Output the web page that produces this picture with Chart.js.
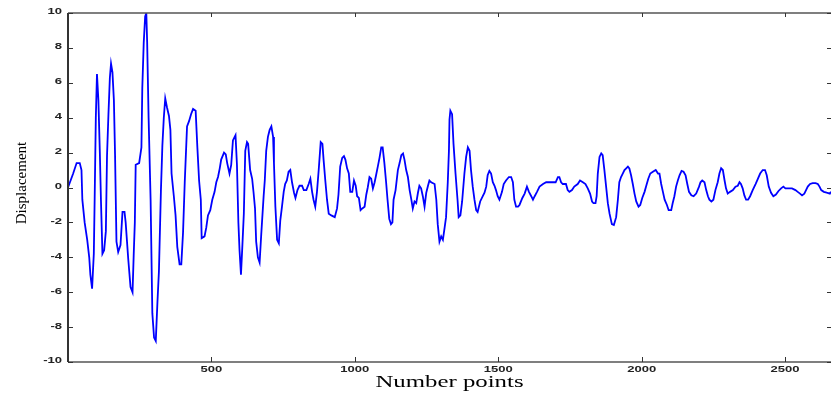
<!DOCTYPE html>
<html>
<head>
<meta charset="utf-8">
<script src="https://cdn.jsdelivr.net/npm/chart.js@4"></script>
<style>
  html, body { margin: 0; padding: 0; background: #fff; }
  #grafico { display: block; }
</style>
</head>
<body>
<canvas id="grafico" width="832" height="398"></canvas>
<script>
// sample index (Number points)
const xValues = [
  0, 18, 30, 41, 47, 50, 58, 67, 74, 78, 84, 90, 93, 97, 101, 106, 111, 115, 120, 126,
  132, 136, 141, 146, 150, 155, 160, 164, 169, 175, 183, 190, 197, 201, 210, 218, 225, 229, 233, 236,
  248, 256, 259, 264, 269, 273, 276, 281, 288, 294, 300, 306, 312, 317, 324, 329, 334, 339, 345, 352,
  357, 361, 369, 375, 381, 389, 395, 401, 407, 415, 422, 429, 436, 445, 451, 457, 463, 466, 476, 482,
  488, 496, 503, 511, 517, 523, 529, 534, 544, 550, 555, 563, 569, 575, 581, 584, 589, 594, 598, 603,
  608, 613, 618, 624, 628, 635, 642, 647, 652, 656, 662, 668, 674, 682, 686, 691, 697, 703, 709, 715,
  718, 723, 729, 735, 740, 746, 752, 757, 763, 769, 775, 781, 788, 793, 800, 807, 816, 822, 831, 839,
  845, 851, 856, 862, 868, 874, 881, 887, 891, 897, 903, 909, 918, 930, 938, 943, 949, 956, 962, 967,
  973, 979, 984, 991, 997, 1003, 1008, 1014, 1020, 1026, 1034, 1040, 1045, 1051, 1057, 1063, 1069, 1074, 1080, 1086,
  1092, 1097, 1103, 1109, 1114, 1120, 1126, 1131, 1135, 1142, 1150, 1156, 1162, 1168, 1173, 1179, 1185, 1191, 1197, 1202,
  1208, 1214, 1220, 1225, 1231, 1237, 1243, 1249, 1255, 1260, 1266, 1278, 1284, 1289, 1295, 1301, 1307, 1313, 1318, 1324,
  1328, 1330, 1333, 1339, 1344, 1351, 1358, 1362, 1368, 1374, 1382, 1388, 1394, 1400, 1405, 1411, 1417, 1423, 1428, 1437,
  1446, 1452, 1458, 1463, 1469, 1475, 1481, 1487, 1492, 1498, 1504, 1513, 1519, 1527, 1537, 1545, 1551, 1556, 1562, 1569,
  1574, 1584, 1592, 1600, 1607, 1615, 1621, 1627, 1635, 1644, 1656, 1667, 1679, 1690, 1700, 1708, 1713, 1719, 1725, 1736,
  1742, 1748, 1757, 1765, 1777, 1785, 1795, 1804, 1812, 1820, 1827, 1832, 1839, 1843, 1847, 1853, 1859, 1864, 1870, 1876,
  1882, 1888, 1896, 1903, 1911, 1917, 1922, 1928, 1934, 1940, 1946, 1952, 1957, 1963, 1969, 1975, 1981, 1989, 1995, 2002,
  2010, 2016, 2023, 2030, 2039, 2049, 2057, 2062, 2068, 2074, 2080, 2088, 2094, 2103, 2108, 2114, 2120, 2126, 2132, 2139,
  2146, 2153, 2159, 2165, 2173, 2181, 2190, 2200, 2205, 2211, 2219, 2225, 2231, 2236, 2243, 2250, 2257, 2265, 2271, 2277,
  2283, 2289, 2294, 2300, 2308, 2318, 2327, 2335, 2341, 2346, 2352, 2358, 2364, 2371, 2378, 2387, 2397, 2405, 2413, 2422,
  2430, 2436, 2443, 2451, 2459, 2468, 2477, 2486, 2494, 2501, 2512, 2524, 2536, 2544, 2552, 2559, 2567, 2573, 2579, 2587,
  2596, 2606, 2614, 2620, 2626, 2635, 2645, 2656, 2660
];
// displacement
const yValues = [
  0, 0.8, 1.4, 1.4, 1.0, -0.7, -2, -3, -4, -5, -5.8, -3.8, -0.6, 4, 6.5, 5, 2, -0.8, -3.8, -3.6,
  -2.5, 1.8, 4.2, 6.3, 7.1, 6.6, 5, 1.9, -3.1, -3.7, -3.3, -1.4, -1.4, -2, -4.1, -5.7, -6.0, -3.9, -2, 1.3,
  1.4, 2.3, 5.7, 8.3, 9.8, 10, 8.3, 4, -0.7, -7.2, -8.6, -8.8, -6.5, -4.8, -0.15, 2.4, 4, 5.1, 4.6, 4.1,
  3.3, 0.8, -0.5, -1.6, -3.4, -4.4, -4.4, -2.6, 0.3, 3.5, 3.8, 4.2, 4.5, 4.4, 2.3, 0.4, -0.7, -2.9, -2.8, -2.3,
  -1.6, -1.3, -0.7, -0.25, 0.3, 0.6, 1.1, 1.6, 2.0, 1.9, 1.4, 0.8, 1.3, 2.7, 2.9, 3.0, 1.3, -2.0, -3.6, -5.0,
  -3.3, -1.5, 2.1, 2.6, 2.5, 1.0, 0.5, -0.3, -1.2, -3.1, -4.0, -4.3, -2.6, -0.5, 0.4, 2.1, 2.9, 3.3, 3.5, 2.9,
  1.4, -1.1, -3.0, -3.2, -1.9, -1.1, -0.25, 0.2, 0.4, 0.9, 1.0, 0.3, -0.3, -0.6, -0.15, 0.1, 0.1, -0.15, -0.15, 0.2,
  0.5, -0.25, -0.7, -1.1, -0.25, 1.0, 2.6, 2.5, 1.6, 0.4, -0.7, -1.5, -1.6, -1.7, -1.2, -0.4, 1.2, 1.7, 1.8, 1.6,
  1.1, 0.8, -0.25, -0.25, 0.4, 0.1, -0.5, -0.6, -1.3, -1.2, -1.1, -0.4, 0.0, 0.6, 0.5, -0.05, 0.3, 0.7, 1.2, 1.7,
  2.3, 2.3, 1.4, 0.3, -0.7, -1.8, -2.1, -2.0, -0.7, -0.15, 1.0, 1.4, 1.85, 1.95, 1.6, 1.0, 0.6, -0.15, -0.7, -1.2,
  -0.8, -0.9, -0.3, 0.1, -0.05, -0.5, -1.1, -0.3, 0.1, 0.4, 0.3, 0.2, -0.7, -2.1, -3.1, -2.8, -3.0, -2.3, -1.7, 0.3,
  2.1, 3.9, 4.4, 4.2, 2.5, 0.8, -0.7, -1.7, -1.6, -0.8, 0.8, 1.75, 2.3, 2.1, 1.0, 0.05, -0.7, -1.3, -1.4, -0.8,
  -0.5, -0.3, 0.05, 0.7, 0.95, 0.8, 0.3, 0.1, -0.15, -0.5, -0.7, -0.25, 0.2, 0.4, 0.6, 0.6, 0.3, -0.7, -1.1, -1.1,
  -1.0, -0.6, -0.35, 0.05, -0.25, -0.5, -0.7, -0.5, -0.25, 0.05, 0.2, 0.3, 0.3, 0.3, 0.3, 0.6, 0.6, 0.3, 0.2, 0.2,
  -0.15, -0.25, -0.15, 0.05, 0.2, 0.4, 0.3, 0.2, -0.05, -0.35, -0.8, -0.9, -0.9, -0.5, 0.8, 1.75, 1.95, 1.85, 1.0, 0.05,
  -0.9, -1.5, -2.1, -2.15, -1.7, -0.7, 0.3, 0.6, 0.8, 1.0, 1.1, 1.2, 1.1, 0.7, 0.2, -0.35, -0.8, -1.1, -1.0, -0.6,
  -0.25, 0.1, 0.5, 0.8, 0.9, 1.0, 0.8, 0.8, 0.2, -0.25, -0.7, -1.0, -1.3, -1.3, -0.9, -0.5, 0.05, 0.4, 0.7, 0.95,
  0.9, 0.7, 0.2, -0.25, -0.45, -0.5, -0.35, 0.05, 0.3, 0.4, 0.3, -0.15, -0.5, -0.7, -0.8, -0.7, -0.15, 0.3, 0.8, 1.1,
  1.0, 0.4, -0.05, -0.35, -0.25, -0.15, 0.05, 0.1, 0.3, 0.2, -0.05, -0.45, -0.7, -0.7, -0.5, -0.15, 0.2, 0.5, 0.8, 1.0,
  1.0, 0.7, 0.05, -0.3, -0.5, -0.4, -0.2, -0.05, 0.05, -0.05, -0.05, -0.05, -0.15, -0.25, -0.35, -0.45, -0.35, -0.15, 0.05, 0.2,
  0.25, 0.25, 0.2, 0.05, -0.15, -0.25, -0.3, -0.35, -0.25
];
const yTicks = [-10, -8, -6, -4, -2, 0, 2, 4, 6, 8, 10];
const xTicks = [500, 1000, 1500, 2000, 2500];

const points = xValues.map((x, i) => ({ x: x, y: yValues[i] }));

// matlab-like box: inward ticks, stretched labels
const boxPlugin = {
    id: 'box',
    afterDraw(chart) {
        const ctx = chart.ctx;
        const a = chart.chartArea;
        const xs = chart.scales.x, ys = chart.scales.y;
        ctx.save();
        ctx.strokeStyle = '#555';
        ctx.lineWidth = 1.5;
        ctx.beginPath();
        ctx.moveTo(a.left, a.top); ctx.lineTo(a.right, a.top);
        ctx.moveTo(a.left, a.bottom); ctx.lineTo(a.right, a.bottom);
        ctx.stroke();
        ctx.strokeStyle = '#333';
        ctx.lineWidth = 2;
        ctx.beginPath();
        ctx.moveTo(a.left, a.top); ctx.lineTo(a.left, a.bottom);
        ctx.stroke();

        ctx.lineWidth = 1;
        ctx.strokeStyle = '#333';
        ctx.beginPath();
        yTicks.forEach(v => {
            const py = Math.round(ys.getPixelForValue(v)) + 0.5;
            ctx.moveTo(a.left, py); ctx.lineTo(a.left + 5, py);
            ctx.moveTo(a.right, py); ctx.lineTo(a.right - 4, py);
        });
        xTicks.forEach(v => {
            const px = Math.round(xs.getPixelForValue(v)) + 0.5;
            ctx.moveTo(px, a.bottom); ctx.lineTo(px, a.bottom - 5);
            ctx.moveTo(px, a.top); ctx.lineTo(px, a.top + 4);
        });
        ctx.stroke();

        ctx.fillStyle = '#222';
        ctx.font = 'bold 9px "Liberation Sans"';
        ctx.textBaseline = 'middle';
        ctx.textAlign = 'right';
        yTicks.forEach(v => {
            ctx.save();
            ctx.translate(a.left - 6, ys.getPixelForValue(v) - 1);
            ctx.scale(1.45, 1);
            ctx.fillText(String(v), 0, 0);
            ctx.restore();
        });
        ctx.textAlign = 'center';
        xTicks.forEach(v => {
            ctx.save();
            ctx.translate(xs.getPixelForValue(v), a.bottom + 8);
            ctx.scale(1.45, 1);
            ctx.fillText(String(v), 0, 0);
            ctx.restore();
        });

        ctx.fillStyle = '#000';
        ctx.font = '15px "Liberation Serif"';
        ctx.save();
        ctx.translate(22, 183);
        ctx.rotate(-Math.PI / 2);
        ctx.fillText('Displacement', 0, 0);
        ctx.restore();

        ctx.font = '16px "Liberation Serif"';
        ctx.save();
        ctx.translate((a.left + a.right) / 2, 383);
        ctx.scale(1.55, 1);
        ctx.fillText('Number points', 0, 0);
        ctx.restore();
        ctx.restore();
    }
};

const ctx = document.getElementById('grafico').getContext('2d');
new Chart(ctx, {
    type: 'line',
    data: {
        datasets: [{
            label: 'Displacement',
            data: points,
            borderColor: '#0000ff',
            borderWidth: 1.8,
            pointRadius: 0,
            tension: 0,
            fill: false
        }]
    },
    options: {
        responsive: false,
        animation: false,
        layout: { padding: { top: 13, right: 1, left: 0, bottom: 0 } },
        plugins: {
            legend: { display: false },
            tooltip: { enabled: false }
        },
        scales: {
            x: {
                type: 'linear',
                min: 0,
                max: 2660,
                ticks: { display: false, stepSize: 500 },
                grid: { display: false },
                border: { display: false },
                afterFit: (s) => { s.height = 36; }
            },
            y: {
                min: -10,
                max: 10,
                ticks: { display: false, stepSize: 2 },
                grid: { display: false },
                border: { display: false },
                afterFit: (s) => { s.width = 68; }
            }
        }
    },
    plugins: [boxPlugin]
});
</script>
</body>
</html>
